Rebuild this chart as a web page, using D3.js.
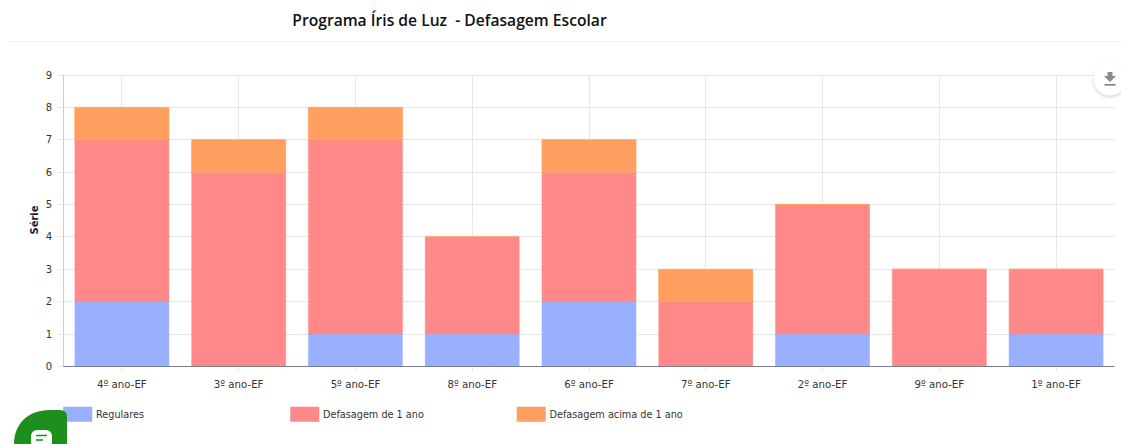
<!DOCTYPE html>
<html>
<head>
<meta charset="utf-8">
<script src="https://cdn.jsdelivr.net/npm/d3@7"></script>
<style>
    html, body { margin: 0; padding: 0; background: #fff; overflow: hidden; }
    text { font-family: "DejaVu Sans", sans-serif; }
</style>
</head>
<body>
<div id="chart"></div>
<script>
var categories = ["4º ano-EF", "3º ano-EF", "5º ano-EF", "8º ano-EF", "6º ano-EF", "7º ano-EF", "2º ano-EF", "9º ano-EF", "1º ano-EF"];
var regulares = [2, 0, 1, 1, 2, 0, 1, 0, 1];
var defasagem1 = [5, 6, 6, 3, 4, 2, 4, 3, 2];
var defasagemAcima = [1, 1, 1, 0, 1, 1, 0, 0, 0];
var seriesNames = ["Regulares", "Defasagem de 1 ano", "Defasagem acima de 1 ano"];
var seriesColors = ["#98b0ff", "#ff8888", "#ffa060"];
var yTicks = [0, 1, 2, 3, 4, 5, 6, 7, 8, 9];

var width = 1121, height = 444;
var margin = { top: 75, right: 6.5, bottom: 77.6, left: 63.5 };

var svg = d3.select("#chart").append("svg")
    .attr("width", width)
    .attr("height", height)
    .style("display", "block");

svg.append("text")
    .attr("x", 449.5)
    .attr("y", 26)
    .attr("text-anchor", "middle")
    .style("font-family", "'Open Sans', sans-serif")
    .style("font-size", "15.65px")
    .style("font-weight", 600)
    .style("white-space", "pre")
    .attr("fill", "#111")
    .text("Programa Íris de Luz  - Defasagem Escolar");

svg.append("line")
    .attr("x1", 8).attr("x2", 1121)
    .attr("y1", 41.5).attr("y2", 41.5)
    .attr("stroke", "#e9eef2");

var x = d3.scaleBand()
    .domain(categories)
    .range([margin.left, width - margin.right])
    .paddingInner(0.195)
    .paddingOuter(0.0975);

var y = d3.scaleLinear()
    .domain([0, 9])
    .range([height - margin.bottom, margin.top]);

var g = svg.append("g");

// grid
g.append("g").selectAll("line")
    .data(yTicks)
    .enter().append("line")
    .attr("x1", margin.left - 5)
    .attr("x2", width - margin.right)
    .attr("y1", function (d) { return Math.floor(y(d)) + 0.5; })
    .attr("y2", function (d) { return Math.floor(y(d)) + 0.5; })
    .attr("stroke", "#e6e6e6");

g.append("g").selectAll("line")
    .data(categories)
    .enter().append("line")
    .attr("x1", function (d) { return Math.floor(x(d) + x.bandwidth() / 2) + 0.5; })
    .attr("x2", function (d) { return Math.floor(x(d) + x.bandwidth() / 2) + 0.5; })
    .attr("y1", margin.top)
    .attr("y2", height - margin.bottom + 5)
    .attr("stroke", "#e6e6e6");

// stacked bars, paths so that a zero segment still leaves its thin outline
var rows = categories.map(function (c, i) {
    return { cat: c, r: regulares[i], d1: defasagem1[i], d2: defasagemAcima[i] };
});
var stack = d3.stack().keys(["r", "d1", "d2"]);

g.append("g").selectAll("g")
    .data(stack(rows))
    .enter().append("g")
    .attr("fill", function (d, i) { return seriesColors[i]; })
    .attr("stroke", function (d, i) { return seriesColors[i]; })
    .attr("stroke-opacity", function (d, i) { return i == 2 ? 0.8 : 0.5; })
    .selectAll("path")
    .data(function (d) { return d; })
    .enter().append("path")
    .attr("d", function (d) {
        var p = d3.path();
        p.rect(x(d.data.cat), y(d[1]), x.bandwidth(), y(d[0]) - y(d[1]));
        return p.toString();
    });

// axes
g.append("line")
    .attr("x1", margin.left).attr("x2", margin.left)
    .attr("y1", margin.top).attr("y2", height - margin.bottom)
    .attr("stroke", "#ccc");

g.append("line")
    .attr("x1", margin.left).attr("x2", width - margin.right)
    .attr("y1", Math.floor(y(0)) + 0.5).attr("y2", Math.floor(y(0)) + 0.5)
    .attr("stroke", "#7b7f93");

g.append("g").selectAll("text")
    .data(yTicks)
    .enter().append("text")
    .attr("x", 52)
    .attr("y", function (d) { return y(d) + 3.5; })
    .attr("text-anchor", "end")
    .style("font-size", "10px")
    .attr("fill", "#333")
    .text(function (d) { return d; });

g.append("g").selectAll("text")
    .data(categories)
    .enter().append("text")
    .attr("x", function (d) { return x(d) + x.bandwidth() / 2; })
    .attr("y", 388)
    .attr("text-anchor", "middle")
    .style("font-size", "10.2px")
    .attr("fill", "#333")
    .text(function (d) { return d; });

svg.append("text")
    .attr("transform", "translate(37.5,220) rotate(-90)")
    .attr("text-anchor", "middle")
    .style("font-size", "10px")
    .style("font-weight", "bold")
    .attr("fill", "#12203a")
    .text("Série");

// legend
var legendX = [63.5, 290.5, 517];
var legend = svg.append("g").selectAll("g")
    .data(seriesNames)
    .enter().append("g")
    .attr("transform", function (d, i) { return "translate(" + legendX[i] + ",407)"; });

legend.append("rect")
    .attr("width", 28.5)
    .attr("height", 14.5)
    .attr("fill", function (d, i) { return seriesColors[i]; })
    .attr("stroke", function (d, i) { return seriesColors[i]; })
    .attr("stroke-opacity", 0.5);

legend.append("text")
    .attr("x", 32.5)
    .attr("y", 11)
    .style("font-size", "9.7px")
    .attr("fill", "#333")
    .text(function (d) { return d; });

// download button
var btn = svg.append("g").attr("transform", "translate(1110,79)");
btn.append("circle")
    .attr("cy", 1.5)
    .attr("r", 17)
    .attr("fill", "#000")
    .attr("opacity", 0.14)
    .style("filter", "blur(1.5px)");
btn.append("circle")
    .attr("r", 16.5)
    .attr("fill", "#fff");
btn.append("path")
    .attr("d", "M-2.5,-7 h5 v4 h3.5 l-6,6 l-6,-6 h3.5 z M-5.5,5 h11 v1.8 h-11 z")
    .attr("fill", "#8a8a8a");

// green chat button
var chat = svg.append("g");
chat.append("path")
    .attr("d", "M14,444 C14,424 28,410 50,410 L60,410 Q67,410 67,417 L67,444 Z")
    .attr("fill", "#1c8f1c");
chat.append("rect")
    .attr("x", 31).attr("y", 430)
    .attr("width", 21).attr("height", 18)
    .attr("rx", 6)
    .attr("fill", "#fff");
chat.append("path")
    .attr("d", "M36,435.5 H47 M36,440 H43")
    .attr("stroke", "#1c8f1c")
    .attr("stroke-width", 1.6);
</script>
</body>
</html>
